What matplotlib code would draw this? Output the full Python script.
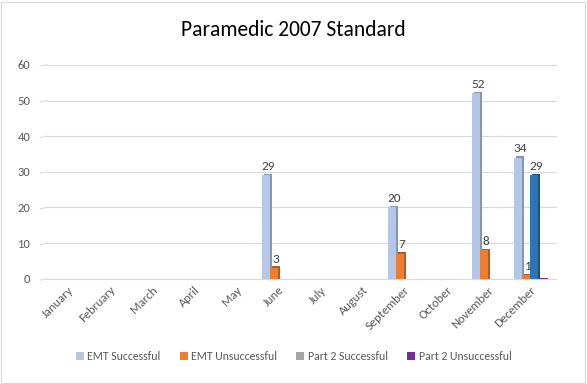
"""Paramedic 2007 Standard - monthly results by series."""

import matplotlib
matplotlib.use("Agg")
import matplotlib.pyplot as plt
import numpy as np
from matplotlib.patches import Rectangle

months = ["January", "February", "March", "April", "May", "June", "July",
          "August", "September", "October", "November", "December"]
emt_successful = [0, 0, 0, 0, 0, 29, 0, 0, 20, 0, 52, 34]
emt_unsuccessful = [0, 0, 0, 0, 0, 3, 0, 0, 7, 0, 8, 1]
part2_successful = [0, 0, 0, 0, 0, 0, 0, 0, 0, 0, 0, 29]
part2_unsuccessful = [0, 0, 0, 0, 0, 0, 0, 0, 0, 0, 0, 0]

series = [
    ("EMT Successful", emt_successful, "#B4C7E7", "#8497B0"),
    ("EMT Unsuccessful", emt_unsuccessful, "#ED7D31", "#B35C22"),
    ("Part 2 Successful", part2_successful, "#A5A5A5", "#7B7B7B"),
    ("Part 2 Unsuccessful", part2_unsuccessful, "#7030A0", "#4E2170"),
]
# the December Part 2 Successful bar is drawn in blue in the original
point_colors = {(2, 11): ("#2E75B6", "#1F4E79")}

plt.rcParams["font.family"] = ["Carlito", "Liberation Sans", "DejaVu Sans"]

fig = plt.figure(figsize=(5.87, 3.84), dpi=100)
fig.patches.append(Rectangle((0.002, 0.003), 0.995, 0.993, transform=fig.transFigure,
                             fill=False, edgecolor="#D9D9D9", linewidth=0.8))
ax = fig.add_axes([0.080, 0.274, 0.859, 0.557])

x = np.arange(len(months))
width = 0.19
dx, dy = 0.04, 0.45

for i, (name, vals, color, dark) in enumerate(series):
    pos = x + (i - 1.5) * width
    for j, v in enumerate(vals):
        c, d = point_colors.get((i, j), (color, dark))
        if v > 0:
            # 3d side / top
            ax.bar(pos[j] + dx, v, width, bottom=0, color=d, zorder=2)
            ax.bar(pos[j], v, width, color=c, zorder=3)
            ax.bar(pos[j] + dx, dy, width, bottom=v, color=d, zorder=2)
        elif i == 3 and j == 11:
            ax.bar(pos[j] + dx, 0.3, width, color=c, zorder=3)
    ax.bar([0], [0], width, color=color, label=name)

# data labels
for i, (name, vals, color, dark) in enumerate(series):
    pos = x + (i - 1.5) * width
    for j, v in enumerate(vals):
        if v > 0:
            ax.text(pos[j] + 0.05, v + 1.0, f"{v}", ha="center", va="bottom",
                    fontsize=9.5, color="#404040", zorder=5)

ax.set_xlim(-0.5, len(months) - 0.5)
ax.set_ylim(0, 60)
yticks = list(range(0, 61, 10))
ax.set_yticks(yticks)
ax.set_xticks(x)
ax.set_xticklabels(months, rotation=45, ha="right", rotation_mode="anchor",
                   fontsize=9, color="#595959")
ax.tick_params(axis="y", labelsize=9, colors="#595959", length=0, pad=12)
ax.tick_params(axis="x", length=0, pad=4)
for yv in yticks:
    ax.plot([-0.5, 11.62], [yv, yv], color="#D9D9D9", linewidth=0.8,
            zorder=0, clip_on=False)
    ax.plot([-0.66, -0.5], [yv - 0.35, yv], color="#D9D9D9", linewidth=0.8,
            zorder=0, clip_on=False)
for sp in ax.spines.values():
    sp.set_visible(False)

fig.suptitle("Paramedic 2007 Standard", y=0.948, fontsize=15.5, color="#000000")

fig.legend(loc="lower center", ncol=4, bbox_to_anchor=(0.5, 0.03), frameon=False,
           fontsize=8.5, handlelength=0.7, handleheight=0.7, handletextpad=0.3,
           columnspacing=1.6, labelcolor="#595959")

fig.savefig("out.png", dpi=100)
